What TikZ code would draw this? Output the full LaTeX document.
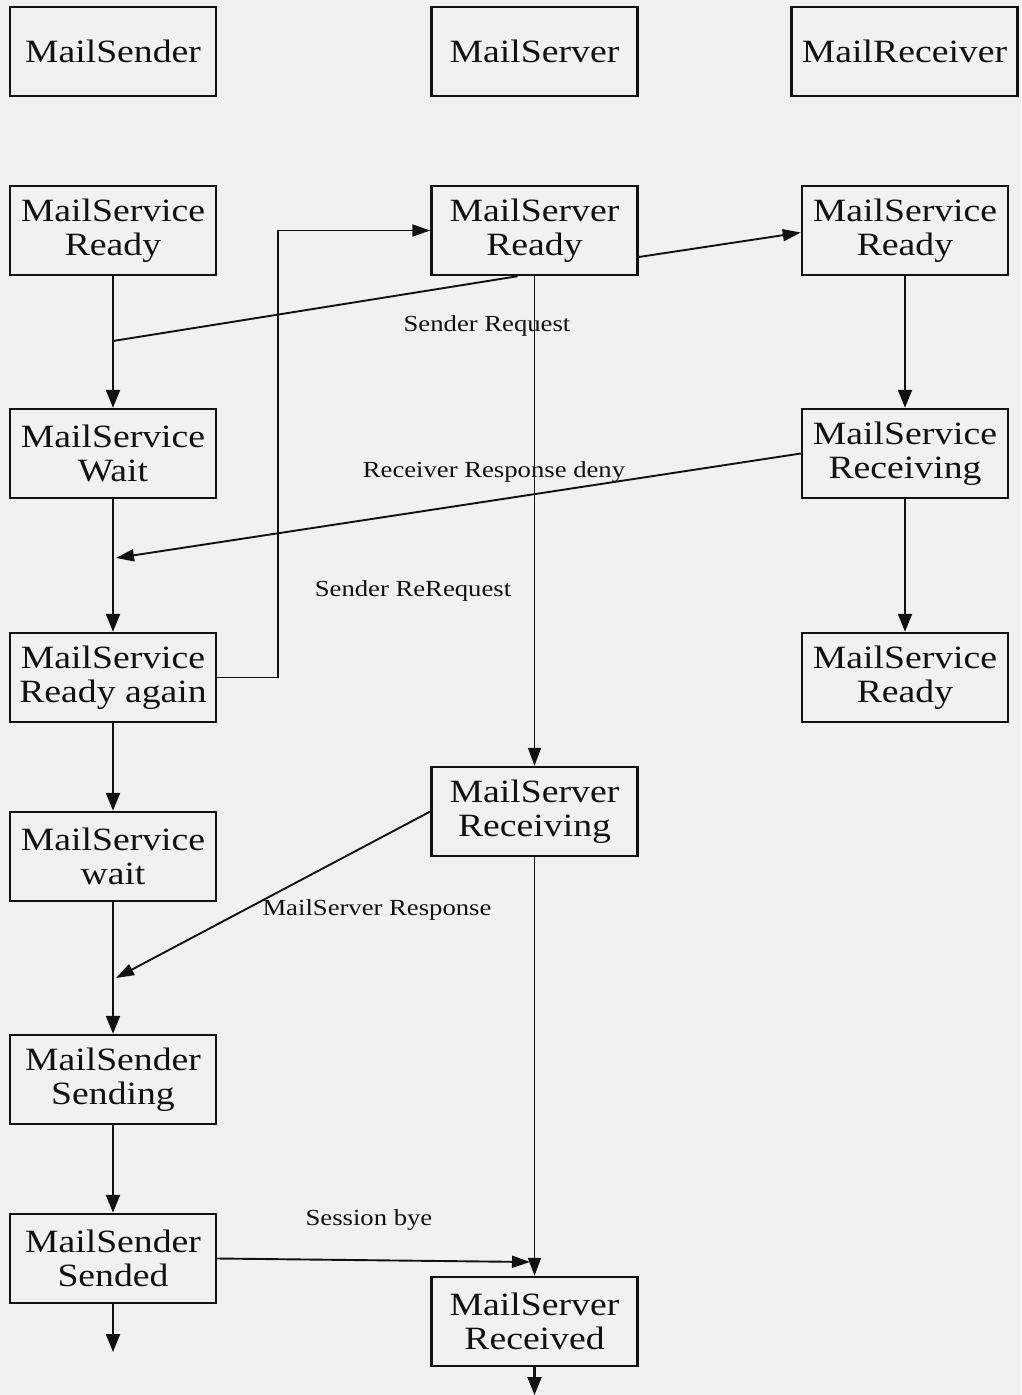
\documentclass[tikz,border=0pt]{standalone}
\usepackage{fontspec}
\usetikzlibrary{arrows.meta,calc}
\newfontfamily\boxfont[FakeStretch=1.16]{Liberation Serif}
\definecolor{paper}{HTML}{F1F1F1}
\definecolor{ink}{HTML}{111111}
\begin{document}
\begin{tikzpicture}[x=1pt,y=-1pt,
  state/.style={draw=ink,line width=2.5pt,minimum width=206pt,minimum height=89pt,
    inner sep=0pt,align=center,text=ink,font=\boxfont\fontsize{32.5}{34}\selectfont},
  head/.style={state},
  lbl/.style={font=\boxfont\fontsize{23}{26}\selectfont,text=ink,inner sep=0pt},
  flow/.style={draw=ink,line width=2.3pt,-{Triangle[length=18pt,width=14pt]}},
  lane/.style={draw=ink,line width=1.8pt,-{Triangle[length=18pt,width=13pt]}},
  msg/.style={draw=ink,line width=1.9pt,-{Triangle[length=18pt,width=12pt]}},
  plain/.style={draw=ink,line width=1.9pt}]
\fill[paper] (0,0) rectangle (1021,1395);
\useasboundingbox (0,0) rectangle (1021,1395);

% lifeline headers
\node[head] (hs) at (113,51.5) {MailSender};
\node[head] (hm) at (534.5,51.5) {MailServer};
\node[head,minimum width=226pt] (hr) at (904.5,51.5) {MailReceiver};

% sender states
\node[state] (sready) at (113,230.5) {MailService\\Ready};
\node[state] (swait)  at (113,453.5) {MailService\\Wait};
\node[state] (sagain) at (113,677.5) {MailService\\Ready again};
\node[state] (swait2) at (113,856.5) {MailService\\wait};
\node[state] (ssend)  at (113,1079.5) {MailSender\\Sending};
\node[state] (ssent)  at (113,1258.5) {MailSender\\Sended};

% server states
\node[state] (mready) at (534.5,230.5) {MailServer\\Ready};
\node[state] (mrecv)  at (534.5,811.5) {MailServer\\Receiving};
\node[state] (mdone)  at (534.5,1321.5) {MailServer\\Received};

% receiver states
\node[state] (rready) at (905,230.5) {MailService\\Ready};
\node[state] (rrecv)  at (905,453.5) {MailService\\Receiving};
\node[state] (rready2) at (905,677.5) {MailService\\Ready};

% sender flow
\draw[flow] (sready) -- (swait);
\draw[flow] (swait) -- (sagain);
\draw[flow] (sagain) -- (swait2);
\draw[flow] (swait2) -- (ssend);
\draw[flow] (ssend) -- (ssent);
\coordinate (sendEnd) at (113,1352);
\draw[flow] (ssent) -- (sendEnd);

% server flow
\draw[lane] (mready) -- (mrecv);
\draw[lane] (mrecv) -- (mdone);
\coordinate (servEnd) at (534.5,1395);
\draw[flow] (mdone) -- (servEnd);

% receiver flow
\draw[flow] (rready) -- (rrecv);
\draw[flow] (rrecv) -- (rready2);

% messages
\coordinate (reqStart) at (113,341);
\draw[plain] (reqStart) -- ($(mready.south)+(-17,0)$);
\node[lbl] (lreq) at (487,326) {Sender Request};

\draw[msg] ($(mready.east)+(0,26.5)$) -- ($(rready.west)+(0,2)$);

\coordinate (denyEnd) at (116,558);
\draw[msg] (rrecv.west) -- (denyEnd);
\node[lbl] (ldeny) at (494,472) {Receiver Response deny};

\draw[msg] (sagain.east) -- ++(61,0) |- (mready.west);
\node[lbl] (lrereq) at (413,591) {Sender ReRequest};

\coordinate (respEnd) at (116,978);
\draw[msg] (mrecv.west) -- (respEnd);
\node[lbl] (lresp) at (377,910) {MailServer Response};

\coordinate (byeEnd) at (530,1262);
\draw[msg] (ssent.east) -- (byeEnd);
\node[lbl] (lbye) at (369,1220) {Session bye};
\end{tikzpicture}
\end{document}
